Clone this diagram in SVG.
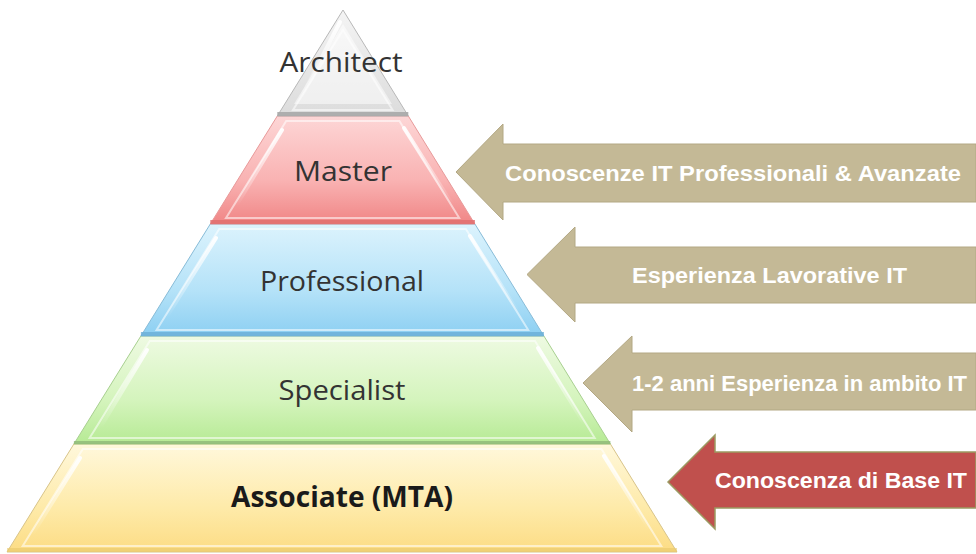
<svg xmlns="http://www.w3.org/2000/svg" width="976" height="554" viewBox="0 0 976 554">
  <defs>
    <linearGradient id="gArch" x1="0" y1="0" x2="0" y2="1">
      <stop offset="0" stop-color="#f4f4f4"/>
      <stop offset="1" stop-color="#dcdcdc"/>
    </linearGradient>
    <linearGradient id="gMaster" x1="0" y1="0" x2="0" y2="1">
      <stop offset="0" stop-color="#fdd6d6"/>
      <stop offset="0.6" stop-color="#f9b2b2"/>
      <stop offset="1" stop-color="#f08585"/>
    </linearGradient>
    <linearGradient id="gProf" x1="0" y1="0" x2="0" y2="1">
      <stop offset="0" stop-color="#dcf3fd"/>
      <stop offset="0.6" stop-color="#b4e2f8"/>
      <stop offset="1" stop-color="#8ccff2"/>
    </linearGradient>
    <linearGradient id="gSpec" x1="0" y1="0" x2="0" y2="1">
      <stop offset="0" stop-color="#eefae2"/>
      <stop offset="0.6" stop-color="#d4f4bc"/>
      <stop offset="1" stop-color="#b6ea94"/>
    </linearGradient>
    <linearGradient id="gAssoc" x1="0" y1="0" x2="0" y2="1">
      <stop offset="0" stop-color="#fff8dc"/>
      <stop offset="0.6" stop-color="#feeaa8"/>
      <stop offset="1" stop-color="#fcdc84"/>
    </linearGradient>
    <linearGradient id="gStreak" x1="0" y1="0" x2="0" y2="1">
      <stop offset="0" stop-color="#ffffff" stop-opacity="0.95"/>
      <stop offset="1" stop-color="#ffffff" stop-opacity="0"/>
    </linearGradient>
  </defs>
  <style>
    .bevel { fill: none; stroke: #ffffff; stroke-opacity: 0.55; stroke-width: 2; }
    .streak { stroke: url(#gStreak); stroke-width: 4; stroke-linecap: round; }
    .lbl { font-family: "Open Sans", "Liberation Sans", sans-serif; font-size: 28px; fill: #333333; text-anchor: middle; }
    .lblb { font-family: "Open Sans", "Liberation Sans", sans-serif; font-size: 28px; font-weight: bold; fill: #1a1a1a; text-anchor: middle; }
    .atxt { font-family: "Liberation Sans", "Open Sans", sans-serif; font-size: 22px; font-weight: bold; fill: #ffffff; }
    .tan { fill: #c4b996; stroke: #b3a884; stroke-width: 1; }
    .red { fill: #c0504d; stroke: #9c9a62; stroke-width: 1.5; }
  </style>
  <rect width="976" height="554" fill="#ffffff"/>

  <g id="layer-associate">
    <polygon points="73.9,444 610.4,444 677,552 7,552" fill="url(#gAssoc)" stroke="#d8c48a" stroke-width="1"/>
    <polygon class="bevel" points="82.8,449 601.5,449 661.3,546 22.7,546"/>
    <rect x="7" y="548" width="670" height="4" fill="#e8c86a" opacity="0.6"/>
    <line class="streak" x1="80" y1="458" x2="32" y2="535"/>
    <line class="streak" x1="604" y1="456" x2="650" y2="530"/>
    <text class="lblb" x="342" y="507" textLength="222" lengthAdjust="spacingAndGlyphs">Associate (MTA)</text>
  </g>

  <g id="layer-specialist">
    <polygon points="140.9,336 543.9,336 610.4,444 73.9,444" fill="url(#gSpec)" stroke="#a8d090" stroke-width="1"/>
    <polygon class="bevel" points="149.8,341 535,341 594.7,438 89.6,438"/>
    <rect x="73.9" y="441" width="536.5" height="3" fill="#8fb878" opacity="0.8"/>
    <line class="streak" x1="147" y1="350" x2="100" y2="428"/>
    <line class="streak" x1="538" y1="348" x2="585" y2="425"/>
    <text class="lbl" x="342" y="400" textLength="127" lengthAdjust="spacingAndGlyphs">Specialist</text>
  </g>

  <g id="layer-professional">
    <polygon points="210.3,224 474.9,224 543.9,336 140.9,336" fill="url(#gProf)" stroke="#88bcd8" stroke-width="1"/>
    <polygon class="bevel" points="219.2,229 465.9,229 528.2,330 156.6,330"/>
    <rect x="140.9" y="332" width="403" height="4" fill="#6aaed6" opacity="0.8"/>
    <line class="streak" x1="216" y1="238" x2="166" y2="318"/>
    <line class="streak" x1="470" y1="236" x2="518" y2="312"/>
    <text class="lbl" x="342" y="291" textLength="164" lengthAdjust="spacingAndGlyphs">Professional</text>
  </g>

  <g id="layer-master">
    <polygon points="277.3,116 408.3,116 474.9,224 210.3,224" fill="url(#gMaster)" stroke="#e89a9a" stroke-width="1"/>
    <polygon class="bevel" points="286.2,121 399.4,121 459.2,218 226,218"/>
    <rect x="210.3" y="220" width="264.6" height="4" fill="#e07070" opacity="0.85"/>
    <line class="streak" x1="282" y1="130" x2="236" y2="206"/>
    <line class="streak" x1="404" y1="128" x2="452" y2="204"/>
    <text class="lbl" x="343" y="181" textLength="98" lengthAdjust="spacingAndGlyphs">Master</text>
  </g>

  <g id="layer-architect">
    <polygon points="343,10 408.3,116 277.3,116" fill="url(#gArch)" stroke="#b8b8b8" stroke-width="1"/>
    <polygon points="343,24 392,104 294,104" fill="#ffffff" opacity="0.5"/>
    <polygon class="bevel" points="343,30 392.6,110 293,110"/>
    <rect x="277.3" y="112" width="131" height="4" fill="#a8a8a8" opacity="0.9"/>
    <line class="streak" x1="340" y1="22" x2="300" y2="100"/>
    <text class="lbl" x="341" y="72" textLength="123" lengthAdjust="spacingAndGlyphs">Architect</text>
  </g>

  <g id="connectors">
    <g id="arrow-master">
      <polygon class="tan" points="456,172 503,124 503,144 976,144 976,202 503,202 503,220"/>
      <text class="atxt" x="505" y="181" textLength="456" lengthAdjust="spacingAndGlyphs">Conoscenze IT Professionali &amp; Avanzate</text>
    </g>
    <g id="arrow-professional">
      <polygon class="tan" points="527,274.5 575,227 575,247 976,247 976,303 575,303 575,322"/>
      <text class="atxt" x="632" y="283" textLength="275" lengthAdjust="spacingAndGlyphs">Esperienza Lavorative IT</text>
    </g>
    <g id="arrow-specialist">
      <polygon class="tan" points="583,383 632,336 632,353 976,353 976,410 632,410 632,432"/>
      <text class="atxt" x="632" y="391" textLength="335" lengthAdjust="spacingAndGlyphs">1-2 anni Esperienza in ambito IT</text>
    </g>
    <g id="arrow-associate">
      <polygon class="red" points="668,482 715,435 715,452 976,452 976,508 715,508 715,529"/>
      <text class="atxt" x="715" y="488" textLength="252" lengthAdjust="spacingAndGlyphs">Conoscenza di Base IT</text>
    </g>
  </g>
</svg>
